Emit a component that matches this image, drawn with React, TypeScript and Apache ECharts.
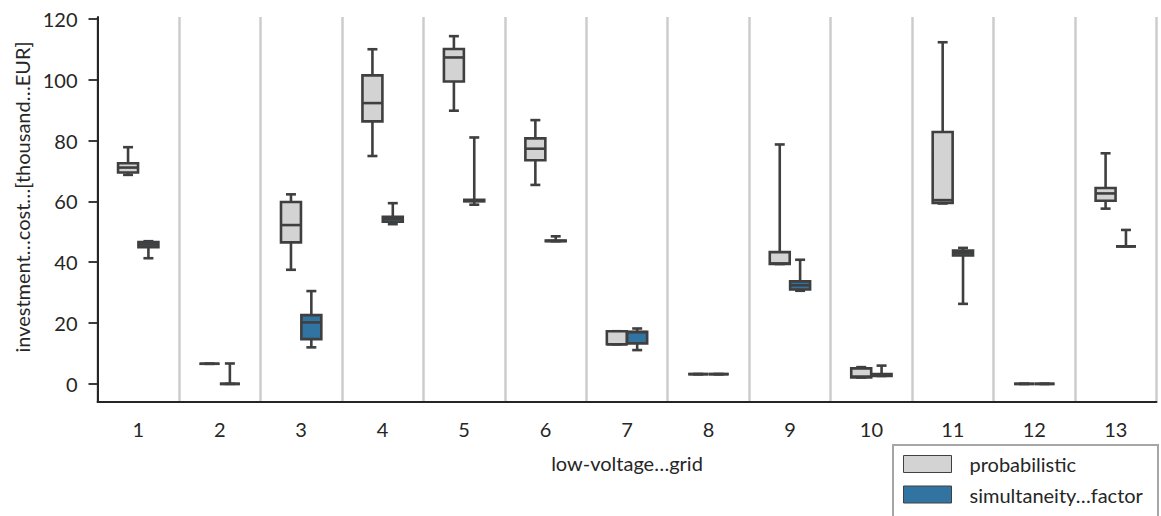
import React, { useEffect, useRef } from "react";
import * as echarts from "echarts";

const categories = ["1", "2", "3", "4", "5", "6", "7", "8", "9", "10", "11", "12", "13"];
const yTicks = [0, 20, 40, 60, 80, 100, 120];

// [min, q1, median, q3, max]
const probabilistic = [
  [68.7, 69.5, 71.1, 72.5, 77.8],
  [6.6, 6.6, 6.6, 6.6, 6.6],
  [37.5, 46.5, 52.2, 59.8, 62.3],
  [74.9, 86.3, 92.3, 101.4, 110.0],
  [89.8, 99.4, 107.3, 110.1, 114.3],
  [65.4, 73.5, 77.3, 80.7, 86.7],
  [13.0, 13.0, 13.0, 17.3, 17.3],
  [3.2, 3.2, 3.2, 3.2, 3.2],
  [39.4, 39.4, 39.6, 43.3, 78.7],
  [2.1, 2.1, 2.4, 5.1, 5.5],
  [59.3, 59.5, 60.4, 82.8, 112.3],
  [0, 0, 0, 0, 0],
  [57.6, 60.2, 62.6, 64.4, 75.8],
];

const simultaneity = [
  [41.3, 44.9, 45.8, 46.6, 46.9],
  [0, 0, 0, 0, 6.7],
  [12.0, 14.7, 20.2, 22.6, 30.5],
  [52.5, 53.3, 54.2, 54.9, 59.4],
  [58.9, 60.0, 60.2, 60.5, 81.0],
  [46.9, 46.9, 47.0, 47.1, 48.5],
  [11.1, 13.3, 17.0, 17.1, 18.2],
  [3.2, 3.2, 3.2, 3.2, 3.2],
  [30.6, 31.0, 32.4, 33.7, 40.8],
  [2.6, 2.6, 2.9, 3.2, 6.0],
  [26.3, 42.2, 43.0, 43.8, 44.7],
  [0, 0, 0, 0, 0],
  [45.2, 45.2, 45.2, 45.2, 50.6],
];

const seriesNames = ["probabilistic", "simultaneity…factor"];
const seriesColors = ["#d3d3d3", "#3274a1"];
const edgeColor = "#3f3f3f";
const textColor = "#262626";
const FONT = "Lato, 'Open Sans', sans-serif";

function makeBoxSeries(name: string, color: string, rows: number[][], side: number) {
  return {
    type: "custom",
    name,
    itemStyle: { color },
    encode: { x: 0, y: [1, 2, 3, 4, 5] },
    data: rows.map((r, i) => [i, ...r]),
    renderItem: (_params: any, api: any) => {
      const idx = api.value(0);
      const band = api.size([1, 0])[0];
      const cx = api.coord([idx, 0])[0] + side * band * 0.125;
      const bw = band * 0.245;
      const capW = bw * 0.5;
      const yMin = api.coord([idx, api.value(1)])[1];
      const yQ1 = api.coord([idx, api.value(2)])[1];
      const yMed = api.coord([idx, api.value(3)])[1];
      const yQ3 = api.coord([idx, api.value(4)])[1];
      const yMax = api.coord([idx, api.value(5)])[1];
      const lineStyle = { stroke: edgeColor, lineWidth: 2.6, fill: null };
      return {
        type: "group",
        children: [
          { type: "line", shape: { x1: cx, y1: yQ1, x2: cx, y2: yMin }, style: lineStyle },
          { type: "line", shape: { x1: cx, y1: yQ3, x2: cx, y2: yMax }, style: lineStyle },
          { type: "line", shape: { x1: cx - capW / 2, y1: yMin, x2: cx + capW / 2, y2: yMin }, style: lineStyle },
          { type: "line", shape: { x1: cx - capW / 2, y1: yMax, x2: cx + capW / 2, y2: yMax }, style: lineStyle },
          {
            type: "rect",
            shape: { x: cx - bw / 2, y: yQ3, width: bw, height: yQ1 - yQ3 },
            style: { fill: color, stroke: edgeColor, lineWidth: 2.6 },
          },
          { type: "line", shape: { x1: cx - bw / 2, y1: yMed, x2: cx + bw / 2, y2: yMed }, style: lineStyle },
        ],
      };
    },
  };
}

export default function App() {
  const ref = useRef<HTMLDivElement>(null);
  useEffect(() => {
    if (!ref.current) return;
    const chart = echarts.init(ref.current, null, { renderer: "svg" });
    chart.setOption({
      animation: false,
      backgroundColor: "#ffffff",
      textStyle: { fontFamily: FONT },
      grid: { left: 97.5, top: 17, right: 4.5, bottom: 114.5, containLabel: false },
      xAxis: {
        type: "category",
        data: categories,
        boundaryGap: true,
        axisLine: { show: true, onZero: false, lineStyle: { color: textColor, width: 2 } },
        axisTick: { show: false },
        axisLabel: { color: textColor, fontSize: 20, fontFamily: FONT, margin: 17, interval: 0 },
        splitLine: { show: true, interval: 0, lineStyle: { color: "#cccccc", width: 2.5 } },
      },
      yAxis: {
        type: "value",
        min: -5.8,
        max: 120.6,
        axisLine: { show: true, lineStyle: { color: textColor, width: 2 } },
        axisTick: { show: true, length: 9, lineStyle: { color: textColor, width: 1.8 }, customValues: yTicks },
        axisLabel: { color: textColor, fontSize: 20, fontFamily: FONT, margin: 20, customValues: yTicks },
        splitLine: { show: false },
      },
      legend: {
        orient: "vertical",
        left: 893,
        top: 445,
        padding: [9, 4, 5, 10],
        itemGap: 10.5,
        itemWidth: 48,
        itemHeight: 17,
        textStyle: { color: textColor, fontSize: 20, fontFamily: FONT, padding: [0, 0, 0, 13] },
        data: seriesNames.map((n, i) => ({
          name: n,
          icon: "rect",
          itemStyle: { color: seriesColors[i], borderColor: "#404040", borderWidth: 1 },
        })),
      },
      graphic: [
        {
          type: "rect",
          z: -1,
          shape: { x: 893, y: 445, width: 265, height: 90 },
          style: { fill: "#ffffff", stroke: "#a6a6a6", lineWidth: 2 },
        },
        {
          type: "text",
          x: 22,
          y: 197,
          rotation: Math.PI / 2,
          style: {
            text: "investment…cost…[thousand…EUR]",
            fill: textColor,
            font: `20px ${FONT}`,
            textAlign: "center",
            textVerticalAlign: "middle",
          },
        },
        {
          type: "text",
          x: 627,
          y: 463,
          style: {
            text: "low-voltage…grid",
            fill: textColor,
            font: `20px ${FONT}`,
            textAlign: "center",
            textVerticalAlign: "middle",
          },
        },
      ],
      series: [
        makeBoxSeries(seriesNames[0], seriesColors[0], probabilistic, -1),
        makeBoxSeries(seriesNames[1], seriesColors[1], simultaneity, 1),
      ],
    });
    return () => chart.dispose();
  }, []);
  return (
    <div
      ref={ref}
      style={{ position: "fixed", left: 0, top: 0, width: 1161, height: 516, background: "#fff" }}
    />
  );
}
